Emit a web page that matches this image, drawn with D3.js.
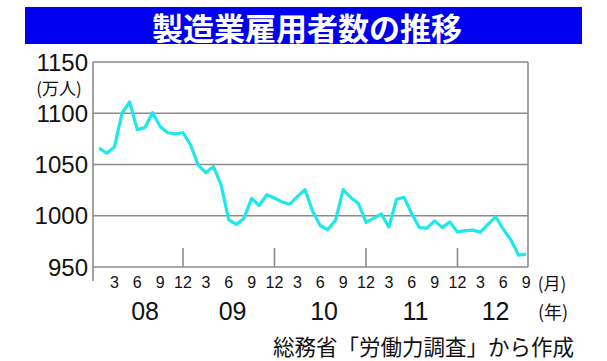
<!DOCTYPE html>
<html><head><meta charset="utf-8">
<script src="https://cdn.jsdelivr.net/npm/d3@7"></script>
<style>
html,body{margin:0;padding:0;background:#fff;}
svg{display:block;}
</style></head>
<body>
<script>
// ---- data ----
const title = "製造業雇用者数の推移";
const yUnit = "(万人)";
const source = "総務省「労働力調査」から作成";
const yTicks = [950, 1000, 1050, 1100, 1150];
const years = ["08", "09", "10", "11", "12"];
const monthTicks = [3, 6, 9, 12];
// monthly values, Jan 2008 .. Sep 2012 (万人)
const values2008 = [1066, 1061, 1067, 1100, 1111, 1084, 1086, 1100.5, 1087, 1081, 1080, 1081];
const values2009 = [1069, 1049.5, 1042, 1048, 1030, 996, 991.5, 997.5, 1017, 1010, 1020.5, 1017.3];
const values2010 = [1013.5, 1011.3, 1018.6, 1025.5, 1004.5, 990.5, 986.5, 995.5, 1025.5, 1017.8, 1012, 993.5];
const values2011 = [997.5, 1001.8, 989, 1016, 1018, 1002, 988.5, 988, 995, 988.4, 994, 984];
const values2012 = [985.5, 986, 984, 991.6, 999, 987, 976.5, 961.6, 962.5];

const series = [values2008, values2009, values2010, values2011, values2012];
const data = [];
series.forEach((arr, yi) => arr.forEach((v, mi) => data.push({idx: yi * 12 + mi + 1, year: yi, month: mi + 1, v})));
const lastIdx = data[data.length - 1].idx;

// ---- layout ----
const W = 607, H = 361;
const frame = {left: 93, right: 528, top: 62, bottom: 267};
const grey = "#8c8c8c";

const svg = d3.select("body").append("svg").attr("width", W).attr("height", H);

// title bar
svg.append("rect").attr("x", 25).attr("y", 7).attr("width", 557).attr("height", 37).attr("fill", "#0000f0");
svg.append("text").attr("x", 307).attr("y", 26).attr("text-anchor", "middle").attr("dominant-baseline", "central")
  .attr("fill", "#fff").attr("font-family", "'Noto Sans CJK JP', sans-serif").attr("font-weight", 700)
  .attr("font-size", 31).text(title);

const x = d3.scaleLinear().domain([0, lastIdx]).range([91.5, 526.1]);
const y = d3.scaleLinear().domain([950, 1150]).range([frame.bottom, frame.top]);

// horizontal gridlines
svg.append("g").selectAll("line").data(yTicks).join("line")
  .attr("x1", frame.left).attr("x2", frame.right)
  .attr("y1", d => y(d)).attr("y2", d => y(d))
  .attr("stroke", grey).attr("stroke-width", 1.6);

// frame verticals
svg.append("line").attr("x1", frame.left).attr("x2", frame.left).attr("y1", frame.top).attr("y2", 281)
  .attr("stroke", grey).attr("stroke-width", 1.6);
svg.append("line").attr("x1", frame.right).attr("x2", frame.right).attr("y1", frame.top).attr("y2", frame.bottom)
  .attr("stroke", grey).attr("stroke-width", 1.6);

// year boundary ticks (at December)
svg.append("g").selectAll("line").data(years.slice(0, 4)).join("line")
  .attr("x1", (d, i) => x((i + 1) * 12)).attr("x2", (d, i) => x((i + 1) * 12))
  .attr("y1", 248).attr("y2", frame.bottom)
  .attr("stroke", grey).attr("stroke-width", 1.6);

// y labels
const font = "'Liberation Sans', Arial, sans-serif";
svg.append("g").selectAll("text").data(yTicks).join("text")
  .attr("x", 88).attr("y", d => y(d)).attr("text-anchor", "end").attr("dominant-baseline", "central")
  .attr("font-family", font).attr("font-size", 24).attr("fill", "#111").text(d => d);
svg.append("text").attr("x", 59).attr("y", 87).attr("text-anchor", "middle").attr("dominant-baseline", "central")
  .attr("font-family", "'Noto Sans CJK JP', sans-serif").attr("font-size", 17).attr("fill", "#111").text(yUnit);

// month labels
const monthLabels = [];
years.forEach((yr, yi) => monthTicks.forEach(m => { const idx = yi * 12 + m; if (idx <= lastIdx) monthLabels.push({idx, m}); }));
svg.append("g").selectAll("text").data(monthLabels).join("text")
  .attr("x", d => x(d.idx)).attr("y", 282).attr("text-anchor", "middle").attr("dominant-baseline", "central")
  .attr("font-family", font).attr("font-size", 16).attr("fill", "#111").text(d => d.m);
svg.append("text").attr("x", 552).attr("y", 282).attr("text-anchor", "middle").attr("dominant-baseline", "central")
  .attr("font-family", "'Noto Sans CJK JP', sans-serif").attr("font-size", 17).attr("fill", "#111").text("(月)");

// year labels (centered on that year's months)
svg.append("g").selectAll("text").data(years).join("text")
  .attr("x", (d, i) => { const s = data.filter(p => p.year === i); return (x(s[0].idx) + x(s[s.length - 1].idx)) / 2 + (i === 0 ? 4 : 0); })
  .attr("y", 311).attr("text-anchor", "middle").attr("dominant-baseline", "central")
  .attr("font-family", font).attr("font-size", 25).attr("fill", "#111").text(d => d);
svg.append("text").attr("x", 553).attr("y", 311).attr("text-anchor", "middle").attr("dominant-baseline", "central")
  .attr("font-family", "'Noto Sans CJK JP', sans-serif").attr("font-size", 18).attr("fill", "#111").text("(年)");

// source
svg.append("text").attr("x", 574).attr("y", 345).attr("text-anchor", "end").attr("dominant-baseline", "central")
  .attr("font-family", "'Noto Sans CJK JP', sans-serif").attr("font-size", 21.5).attr("fill", "#111").text(source);

// line
const line = d3.line().x(d => x(d.idx)).y(d => y(d.v));
svg.append("path").datum(data).attr("d", line).attr("fill", "none")
  .attr("stroke", "#1ee8ec").attr("stroke-width", 3.2).attr("stroke-linejoin", "round");
</script>
</body></html>
